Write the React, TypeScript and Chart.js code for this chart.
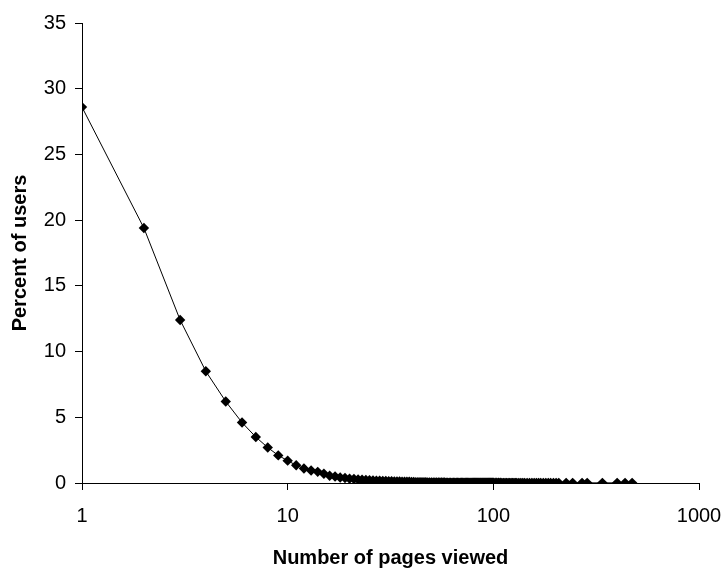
import React, { useEffect, useRef } from "react";
import { Chart, registerables } from "chart.js";

Chart.register(...registerables);

const pagesViewed: number[] = [
  1, 2, 3, 4, 5, 6, 7, 8, 9, 10,
  11, 12, 13, 14, 15, 16, 17, 18, 19, 20,
  21, 22, 23, 24, 25, 26, 27, 28, 29, 30,
  31, 32, 33, 34, 35, 36, 37, 38, 39, 40,
  41, 42, 43, 44, 45, 46, 47, 48, 49, 50,
  51, 52, 53, 54, 55, 56, 57, 58, 59, 60,
  61, 62, 63, 64, 65, 66, 67, 68, 69, 70,
  71, 72, 73, 74, 75, 76, 77, 78, 79, 80,
  81, 82, 83, 84, 85, 86, 87, 88, 89, 90,
  91, 92, 93, 94, 95, 96, 97, 98, 99, 100,
  102, 104, 106, 108, 110, 112, 114, 116, 118, 120,
  122, 124, 126, 128, 130, 133, 136, 139, 142, 146,
  150, 154, 158, 162, 166, 170, 175, 180, 185, 190,
  196, 202, 208, 226, 243, 270, 286, 339, 400, 437, 473,
];

const percentUsers: number[] = [
  28.6, 19.4, 12.4, 8.5, 6.2, 4.6, 3.5, 2.7, 2.1, 1.7,
  1.35, 1.1, 0.95, 0.85, 0.7, 0.55, 0.5, 0.42, 0.38, 0.33,
  0.3, 0.27, 0.25, 0.23, 0.21, 0.19, 0.18, 0.17, 0.16, 0.15,
  0.14, 0.13, 0.12, 0.12, 0.11, 0.1, 0.1, 0.09, 0.09, 0.08,
  0.08, 0.07, 0.07, 0.07, 0.06, 0.06, 0.06, 0.05, 0.05, 0.05,
  0.05, 0.05, 0.04, 0.04, 0.04, 0.04, 0.04, 0.04, 0.03, 0.03,
  0.03, 0.03, 0.03, 0.03, 0.03, 0.03, 0.03, 0.03, 0.03, 0.03,
  0.03, 0.03, 0.03, 0.02, 0.02, 0.02, 0.02, 0.02, 0.02, 0.02,
  0.02, 0.02, 0.02, 0.02, 0.02, 0.02, 0.02, 0.02, 0.02, 0.02,
  0.02, 0.02, 0.02, 0.02, 0.02, 0.02, 0.02, 0.02, 0.02, 0.02,
  0.02, 0.02, 0.02, 0.02, 0.01, 0.01, 0.01, 0.01, 0.01, 0.01,
  0.01, 0.01, 0.01, 0.01, 0.01, 0.01, 0.01, 0.01, 0.01, 0.01,
  0.01, 0.01, 0.01, 0.01, 0.01, 0.01, 0.01, 0.01, 0.01, 0.01,
  0.01, 0.01, 0.01, 0.01, 0.01, 0.01, 0.01, 0.01, 0.01, 0.01, 0.01,
];

const xTickValues: number[] = [1, 10, 100, 1000];
const yTickValues: number[] = [0, 5, 10, 15, 20, 25, 30, 35];

const xTitle = "Number of pages viewed";
const yTitle = "Percent of users";

const FONT = "'Liberation Sans', Arial, sans-serif";

export default function App() {
  const canvasRef = useRef<HTMLCanvasElement | null>(null);

  useEffect(() => {
    if (!canvasRef.current) return;
    const points = pagesViewed.map((x, i) => ({ x, y: percentUsers[i] }));
    const chart = new Chart(canvasRef.current, {
      type: "line",
      data: {
        datasets: [
          {
            data: points,
            borderColor: "#000",
            backgroundColor: "#000",
            borderWidth: 1,
            pointStyle: "rectRot",
            pointRadius: 5.2,
            pointBorderWidth: 0,
            pointBackgroundColor: "#000",
            tension: 0,
            fill: false,
          },
        ],
      },
      options: {
        animation: false,
        responsive: true,
        maintainAspectRatio: false,
        devicePixelRatio: 1,
        layout: { padding: { top: 23, right: 25, bottom: 0, left: 0 } },
        plugins: {
          legend: { display: false },
          tooltip: { enabled: false },
        },
        scales: {
          x: {
            type: "logarithmic",
            min: 1,
            max: 1000,
            afterBuildTicks: (scale: any) => {
              scale.ticks = xTickValues.map((v) => ({ value: v }));
            },
            afterFit: (scale: any) => {
              scale.height = 87;
              scale.paddingLeft = 0;
              scale.paddingRight = 0;
            },
            ticks: {
              color: "#000",
              font: { family: FONT, size: 20 },
              padding: 14,
              autoSkip: false,
              maxRotation: 0,
              callback: (v: any) => String(v),
            },
            grid: {
              display: true,
              drawOnChartArea: false,
              drawTicks: true,
              tickLength: 7,
              color: "#000",
            },
            border: { display: true, color: "#000", width: 1 },
            title: {
              display: true,
              text: xTitle,
              color: "#000",
              font: { family: FONT, size: 20, weight: "bold" },
              padding: { top: 0, bottom: 0 },
            },
          },
          y: {
            type: "linear",
            min: 0,
            max: 35,
            afterBuildTicks: (scale: any) => {
              scale.ticks = yTickValues.map((v) => ({ value: v }));
            },
            afterFit: (scale: any) => {
              scale.width = 82;
            },
            ticks: {
              color: "#000",
              font: { family: FONT, size: 20 },
              padding: 9,
              callback: (v: any) => String(v),
            },
            grid: {
              display: true,
              drawOnChartArea: false,
              drawTicks: true,
              tickLength: 7,
              color: "#000",
            },
            border: { display: true, color: "#000", width: 1 },
            title: {
              display: true,
              text: yTitle,
              color: "#000",
              font: { family: FONT, size: 20, weight: "bold" },
              padding: { top: 8, bottom: 0 },
            },
          },
        },
      },
    } as any);
    return () => chart.destroy();
  }, []);

  return (
    <div style={{ position: "absolute", left: 0, top: 0, width: 724, height: 570, background: "#fff" }}>
      <canvas ref={canvasRef} />
    </div>
  );
}
